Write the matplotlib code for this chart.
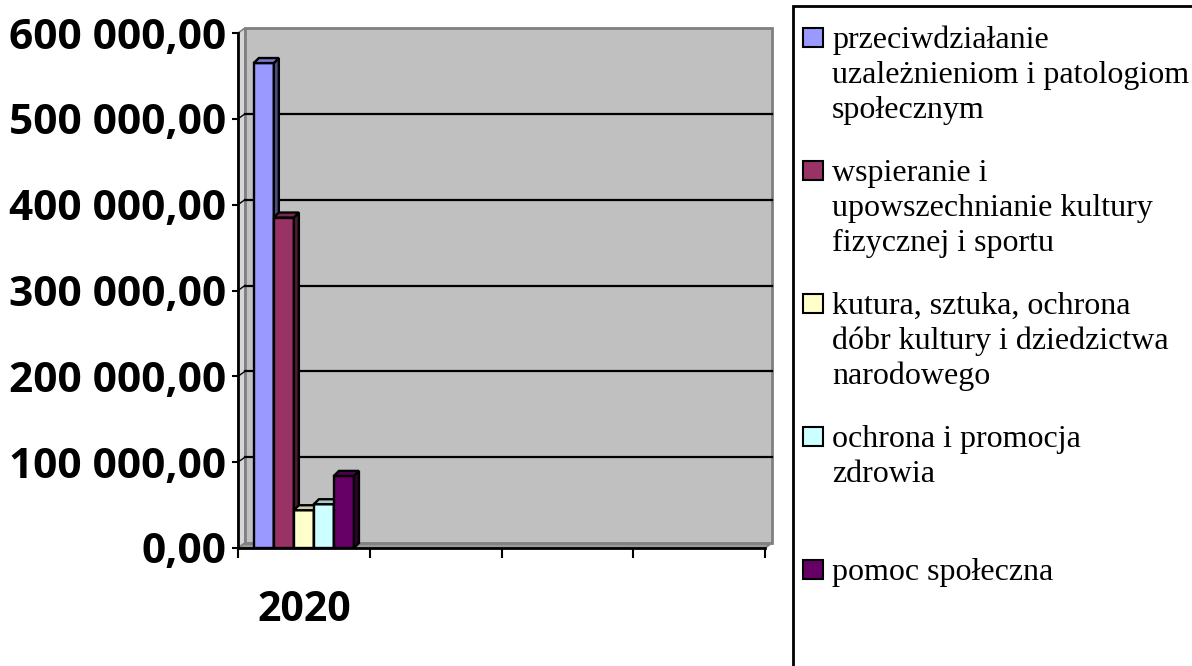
import matplotlib.pyplot as plt
import matplotlib.colors as mcolors
from matplotlib.patches import Polygon, Rectangle
import numpy as np

# data
categories = ["2020", "", "", ""]
series_labels = [
    ["przeciwdziałanie", "uzależnieniom i patologiom", "społecznym"],
    ["wspieranie i", "upowszechnianie kultury", "fizycznej i sportu"],
    ["kutura, sztuka, ochrona", "dóbr kultury i dziedzictwa", "narodowego"],
    ["ochrona i promocja", "zdrowia"],
    ["pomoc społeczna"],
]
series_values = [565000, 385000, 44000, 51000, 84000]
series_colors = ["#9999FF", "#993366", "#FFFFCC", "#CCFFFF", "#660066"]
y_ticks = [0, 100000, 200000, 300000, 400000, 500000, 600000]


def fmt(v):
    return f"{v:,.2f}".replace(",", " ").replace(".", ",")


def shade(c, f):
    return tuple(np.array(mcolors.to_rgb(c)) * f)


W, H = 1192, 666
fig = plt.figure(figsize=(W / 100, H / 100), dpi=100)
fig.patch.set_facecolor("white")

# axes placement in pixels
ax_l, ax_r, ax_b, ax_t = 238, 765, 548, 33
ax = fig.add_axes([ax_l / W, 1 - ax_b / H, (ax_r - ax_l) / W, (ax_b - ax_t) / H])
ax.patch.set_visible(False)
xmax = len(categories)
ymax = y_ticks[-1]
ax.set_xlim(0, xmax)
ax.set_ylim(0, ymax)

px_x = xmax / (ax_r - ax_l)
px_y = ymax / (ax_b - ax_t)

# back wall, side wall and floor (fake 3D)
wdx, wdy = 7 * px_x, 5 * px_y
ax.add_patch(Polygon([(0, 0), (0, ymax), (wdx, ymax + wdy), (wdx, wdy)],
                     closed=True, fc="#D6D6D6", ec="#808080", lw=1.2, zorder=0.5, clip_on=False))
ax.add_patch(Polygon([(0, 0), (xmax, 0), (xmax + wdx, wdy), (wdx, wdy)],
                     closed=True, fc="#9A9A9A", ec="#808080", lw=1.2, zorder=0.5, clip_on=False))
ax.add_patch(Rectangle((wdx, wdy), xmax, ymax, fc="#C0C0C0", ec="#808080", lw=2,
                       zorder=0.6, clip_on=False))
for v in y_ticks[1:-1]:
    ax.plot([wdx, xmax + wdx], [v + wdy, v + wdy], color="black", lw=1.6, zorder=1, clip_on=False)
    ax.plot([0, wdx], [v, v + wdy], color="black", lw=1.0, zorder=1, clip_on=False)

# bars with depth
n = len(series_values)
group_w = 0.76
bw = group_w / n
bdx, bdy = 5 * px_x, 5 * px_y
for j, (v, c) in enumerate(zip(series_values, series_colors)):
    xl = 0.5 - group_w / 2 + j * bw
    xr = xl + bw
    z = 3 + j * 3
    ax.bar(xl, v, width=bw, align="edge", color=c, edgecolor="black", lw=1.7, zorder=z)
    ax.add_patch(Polygon([(xr, 0), (xr, v), (xr + bdx, v + bdy), (xr + bdx, bdy)],
                         closed=True, fc=shade(c, 0.5), ec="black", lw=1.7, zorder=z + 0.5,
                         clip_on=False))
    ax.add_patch(Polygon([(xl, v), (xr, v), (xr + bdx, v + bdy), (xl + bdx, v + bdy)],
                         closed=True, fc=shade(c, 0.8), ec="black", lw=1.7, zorder=z + 0.6,
                         clip_on=False))

# spines and ticks
for s in ["top", "right"]:
    ax.spines[s].set_visible(False)
for s in ["left", "bottom"]:
    ax.spines[s].set_linewidth(2)
    ax.spines[s].set_zorder(20)

ax.set_yticks(y_ticks)
ax.set_yticklabels([fmt(v) for v in y_ticks],
                   fontdict=dict(family="Open Sans", weight="bold", size=30.5))
ax.tick_params(axis="y", length=4.5, width=1.5, direction="out", pad=4)

ax.set_xticks(np.arange(xmax + 1))
ax.set_xticklabels([])
ax.tick_params(axis="x", which="major", length=7, width=1.5, direction="out")
ax.set_xticks(np.arange(xmax) + 0.5, minor=True)
ax.set_xticklabels(categories, minor=True,
                   fontdict=dict(family="Open Sans", weight="bold", size=29.5))
ax.tick_params(axis="x", which="minor", length=0, pad=30)

# legend box (runs off the right and bottom edge like the original)
fig.add_artist(Rectangle((793 / W, -0.1), 0.5, 1.1 - 6 / H, transform=fig.transFigure,
                         fill=False, ec="black", lw=2, clip_on=False))
entry_step = 133
for i, (lines, c) in enumerate(zip(series_labels, series_colors)):
    base = 48 + i * entry_step
    fig.add_artist(Rectangle((803 / W, 1 - (base - 1) / H), 20 / W, 19 / H,
                             transform=fig.transFigure, fc=c, ec="black", lw=1.5))
    for k, line in enumerate(lines):
        fig.text(832 / W, 1 - (base + k * 35) / H, line, ha="left", va="baseline",
                 family="Liberation Serif", fontsize=23)

fig.savefig("out.png", dpi=100)
